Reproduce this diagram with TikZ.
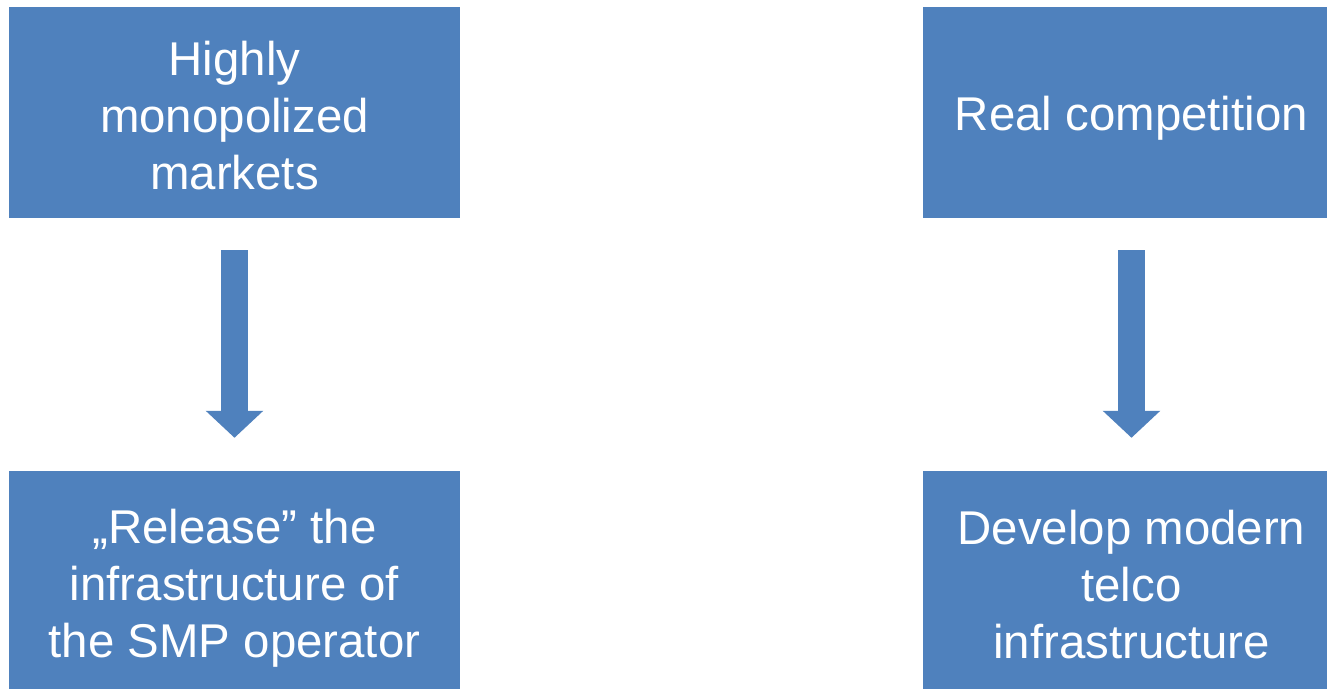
\documentclass[tikz,border=0pt]{standalone}
\usepackage{fontspec}
\setmainfont{Liberation Sans}
\usetikzlibrary{arrows.meta}
\definecolor{boxblue}{HTML}{4F81BD}
\tikzset{
  box/.style={fill=boxblue, draw=none, inner sep=0pt},
  boxtext/.style={text=white, align=center, inner sep=0pt,
    font=\fontsize{47.4}{57}\selectfont},
  fatarrow/.style={draw=boxblue, line width=27pt,
    -{Triangle[width=56pt,length=27pt]}}
}
\begin{document}
\begin{tikzpicture}[x=1pt,y=1pt]
\useasboundingbox (0,0) rectangle (1327,688);
\fill[white] (0,0) rectangle (1327,688);
\clip (0,0) rectangle (1327,688);
\node[box, minimum width=451pt, minimum height=211pt,
  label={[boxtext, yshift=-3pt]center:Highly\\monopolized\\markets}] (tl) at (234.5,575.5) {};
\node[box, minimum width=451pt, minimum height=228pt,
  label={[boxtext, yshift=-3pt]center:„Release” the\\infrastructure of\\the SMP operator}] (bl) at (234.5,103) {};
\node[box, minimum width=417pt, minimum height=211pt,
  label={[boxtext, yshift=-6pt]center:Real competition}] (tr) at (1131.5,575.5) {};
\node[box, minimum width=417pt, minimum height=228pt,
  label={[boxtext]center:Develop modern\\telco\\infrastructure}] (br) at (1131.5,103) {};
\draw[fatarrow] ([yshift=-32pt]tl.south) -- ([yshift=33pt]bl.north);
\draw[fatarrow] ([yshift=-32pt]tr.south) -- ([yshift=33pt]br.north);
\end{tikzpicture}
\end{document}
